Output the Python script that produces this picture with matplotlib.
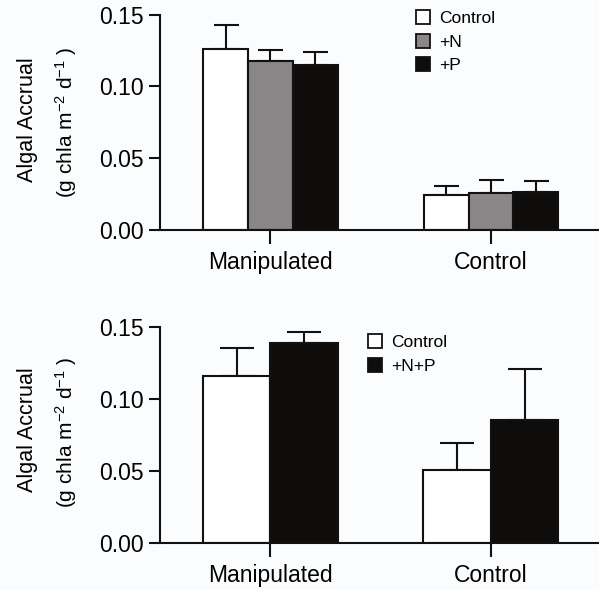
import matplotlib
matplotlib.use("Agg")
import matplotlib.pyplot as plt
from matplotlib.lines import Line2D
import numpy as np

plt.rcParams['font.family'] = ['Liberation Sans', 'DejaVu Sans']
plt.rcParams['mathtext.fontset'] = 'custom'
plt.rcParams['mathtext.rm'] = 'Liberation Sans'
plt.rcParams['mathtext.it'] = 'Liberation Sans'
plt.rcParams['mathtext.bf'] = 'Liberation Sans:bold'

# ---- data ----
sites = ["Manipulated", "Control"]

top_series = ["Control", "+N", "+P"]
top_means = {"Control": [0.126, 0.0245], "+N": [0.118, 0.026], "+P": [0.115, 0.0265]}
top_errs = {"Control": [0.017, 0.0065], "+N": [0.0075, 0.009], "+P": [0.009, 0.0075]}

bot_series = ["Control", "+N+P"]
bot_means = {"Control": [0.116, 0.051], "+N+P": [0.1385, 0.0855]}
bot_errs = {"Control": [0.0195, 0.0185], "+N+P": [0.008, 0.035]}

yticks = [0.00, 0.05, 0.10, 0.15]
ytick_labels = ["0.00", "0.05", "0.10", "0.15"]

colors = {"Control": "#ffffff", "+N": "#8a8586", "+P": "#0f0d0c", "+N+P": "#0f0d0c"}

W, H = 599, 590
fig = plt.figure(figsize=(W / 100, H / 100), dpi=100)
fig.patch.set_facecolor("#fbfcfd")

def axes_px(left, top, right, bottom):
    return fig.add_axes([left / W, 1 - bottom / H, (right - left) / W, (bottom - top) / H])

ax1 = axes_px(160, 14.7, 599, 230)
ax2 = axes_px(160, 326.7, 599, 543.3)

x = np.arange(len(sites))

def draw(ax, series, means, errs, width, capsize):
    n = len(series)
    for i, s in enumerate(series):
        off = (i - (n - 1) / 2) * width
        ax.bar(x + off, means[s], width=width, color=colors[s], edgecolor="#111111",
               linewidth=1.5, zorder=2)
        ax.errorbar(x + off, means[s], yerr=[np.zeros(len(sites)), errs[s]], fmt="none",
                    ecolor="#111111", elinewidth=1.5, capsize=capsize, capthick=1.5, zorder=1)
    ax.set_xlim(-0.501, 1.49)
    ax.set_ylim(0, 0.15)
    ax.set_yticks(yticks)
    ax.set_yticklabels(ytick_labels)
    ax.set_xticks(x)
    ax.set_xticklabels(sites)
    ax.set_facecolor("none")
    for sp in ["top", "right"]:
        ax.spines[sp].set_visible(False)
    for sp in ["left", "bottom"]:
        ax.spines[sp].set_linewidth(1.5)
        ax.spines[sp].set_color("#111111")
    ax.tick_params(axis="y", length=8, width=1.5, labelsize=16.5, pad=4, color="#111111")
    ax.tick_params(axis="x", length=10, width=1.5, labelsize=16.5, pad=5, color="#111111")

draw(ax1, top_series, top_means, top_errs, 0.203, 9)
draw(ax2, bot_series, bot_means, bot_errs, 0.306, 12)

def legend(ax, series, anchor_px):
    handles = [Line2D([], [], marker="s", linestyle="none", markersize=10,
                      markerfacecolor=colors[s], markeredgecolor="#111111",
                      markeredgewidth=1.3) for s in series]
    ax.legend(handles, series, loc="upper left",
              bbox_to_anchor=(anchor_px[0] / W, 1 - anchor_px[1] / H),
              bbox_transform=fig.transFigure, frameon=False, fontsize=12.5,
              handletextpad=0.3, labelspacing=0.5, handlelength=1.2, borderpad=0)

legend(ax1, top_series, (404, 2))
legend(ax2, bot_series, (356, 326))

for (cy) in [120, 430]:
    fig.text(27 / W, 1 - cy / H, "Algal Accrual", rotation=90, ha="center", va="center",
             fontsize=15.5)
    fig.text(66 / W, 1 - (cy + 2) / H, r"(g chla m$^{-2}$ d$^{-1}$ )", rotation=90,
             ha="center", va="center", fontsize=15)

fig.savefig("out.png", dpi=100, facecolor=fig.get_facecolor())
